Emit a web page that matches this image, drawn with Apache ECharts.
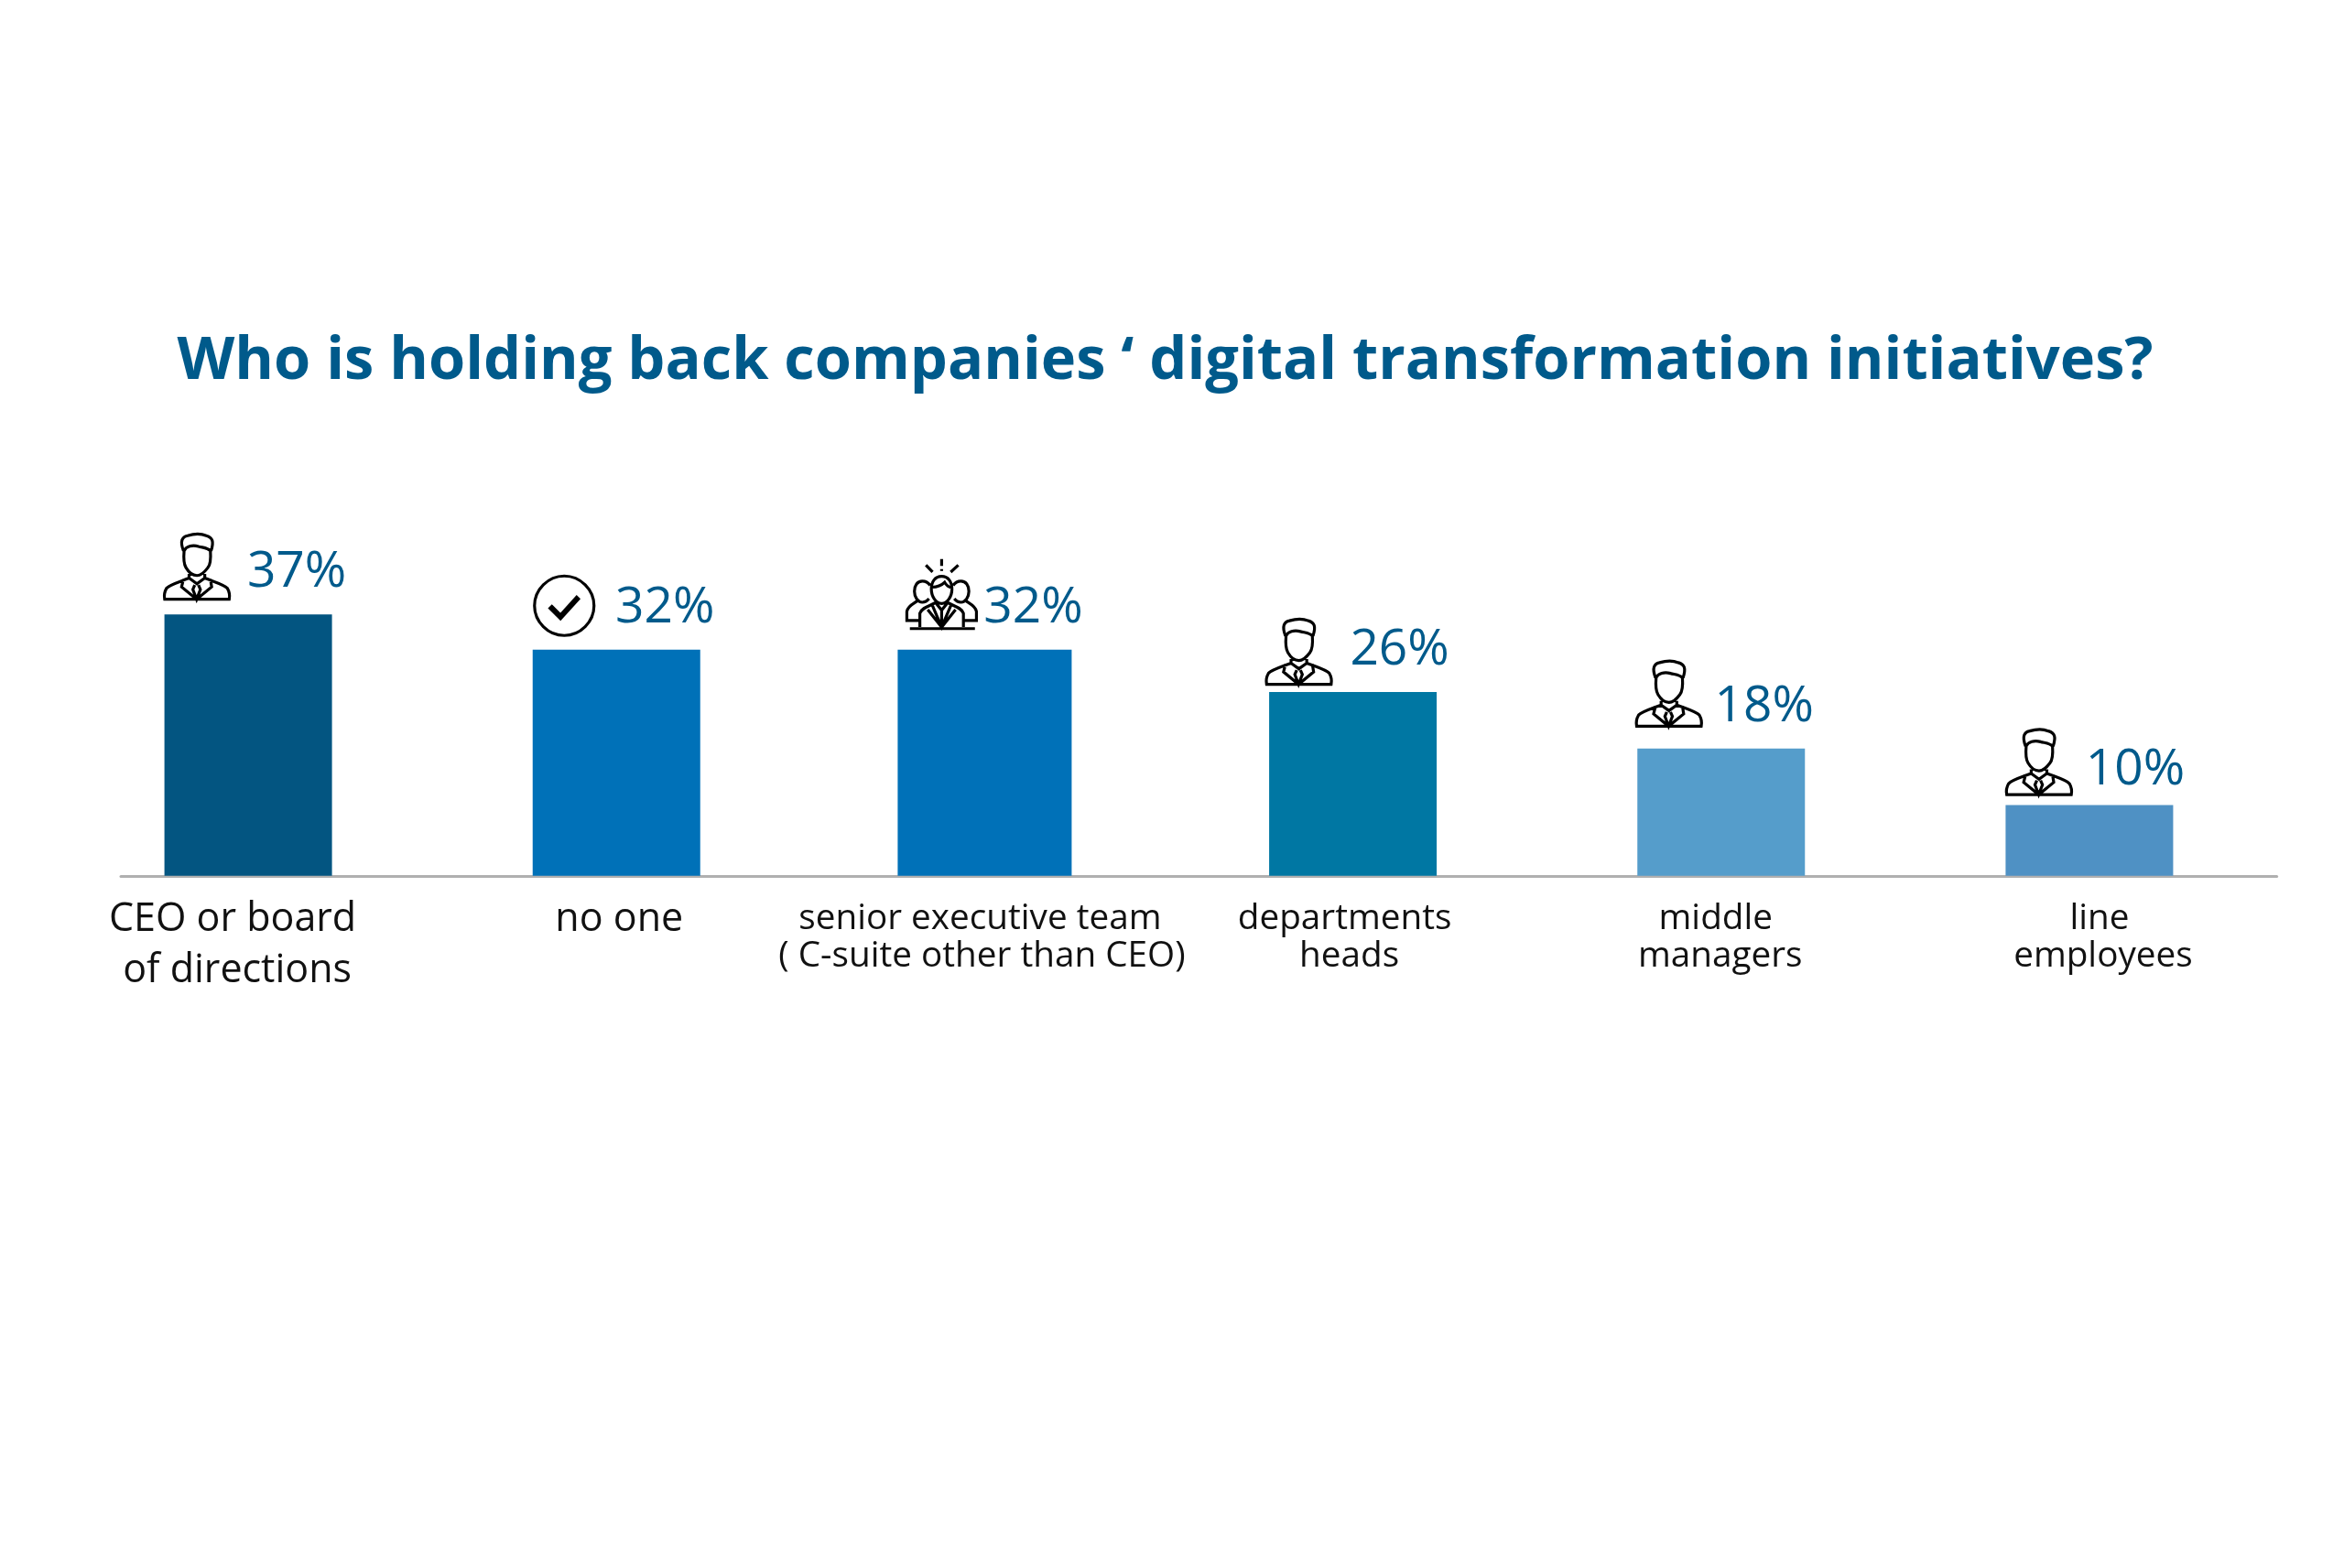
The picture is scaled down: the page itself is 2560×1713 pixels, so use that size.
<!DOCTYPE html>
<html>
<head>
<meta charset="utf-8">
<title>digital transformation</title>
<script src="https://cdn.jsdelivr.net/npm/echarts@6/dist/echarts.min.js"></script>
<style>
html,body{margin:0;padding:0;background:#fff;}
#main{width:2560px;height:1713px;}
</style>
</head>
<body>
<div id="main"></div>
<script>
var titleText = 'Who is holding back companies \u2018 digital transformation initiatives?';
var categories = ['CEO or board\nof directions','no one','senior executive team\n( C-suite other than CEO)','departments\nheads','middle\nmanagers','line\nemployees'];
var values = [37,32,32,26,18,10];

var barColors = ['#035581','#0071b8','#0071b8','#0077a3','#559dcb','#4f91c4'];

// icons drawn as outlines, coordinates are in their own little box
var personIcon = 'path://M92 92C80 60 88 48 105 44C125 38 150 38 165 44C185 50 190 62 180 92' +
  'M94 92C100 78 120 72 140 78C155 82 170 82 178 92C180 120 178 135 170 145C155 165 145 170 135 170C125 170 112 165 100 145C94 135 92 115 94 92Z' +
  'M110 165L110 178L135 196L160 178L160 165' +
  'M110 178C80 190 50 198 38 210C32 220 30 235 32 245L238 245C240 235 238 220 232 210C220 198 190 190 160 178' +
  'M92 182L86 206L134 245L182 206L178 182' +
  'M128 200L122 214L134 245L146 214L140 200';
var checkIcon = 'path://M50 2C76 2 98 24 98 50C98 76 76 98 50 98C24 98 2 76 2 50C2 24 24 2 50 2Z' +
  'M30 51L44 65L70 36L73 39L44 71L27 54Z';
var teamIcon = 'path://M130 25L130 48M130 58L130 64M78 45L100 68M185 45L160 68' +
  'M130 82C108 82 96 100 96 125C96 150 112 172 130 172C148 172 164 150 164 125C164 100 152 82 130 82Z' +
  'M98 118C115 118 130 112 140 102C146 112 155 118 164 120' +
  'M92 112C85 102 78 98 66 98C50 98 40 112 40 132C40 152 52 168 66 168C74 168 82 164 88 156' +
  'M168 112C175 102 182 98 194 98C210 98 220 112 220 132C220 152 208 168 194 168C186 168 178 164 172 156' +
  'M52 162C38 172 18 180 15 198L15 228L56 228M208 162C222 172 242 180 245 198L245 228L204 228' +
  'M112 168C90 180 64 186 58 204L58 250M148 168C170 180 196 186 202 204L202 250' +
  'M112 172L130 194L148 172M130 194L130 250M100 180L130 250L160 180M84 192L130 250L176 192' +
  'M25 255L240 255';

var iconList = [personIcon,checkIcon,teamIcon,personIcon,personIcon,personIcon];
var iconSizes = [71,65,76,71,71,71];
var iconOffsets = [[-56,-52],[-57,-48],[-47,-61],[-59,-44],[-57,-60],[-55,-47]];
var valueOffsets = [[53,0],[53,0],[53,0],[51,0],[47,0],[50,7]];
// per line of each label: sideways shift, font size, line height
var labelShifts = [[-17,-12],[3],[-5,-3],[-9,-4],[-6,-1],[11,15]];
var labelSizes = [43,43,38.7,38.7,38.7,38.7];
var labelHeights = [[56,56],[56],[54,28],[54,28],[54,28],[54,28]];
var wideBar = 2; // the third bar is a bit wider than the others

var myChart = echarts.init(document.getElementById('main'));

// one rich style per line, the labels do not sit exactly under their bars
var richStyles = {};
categories.forEach(function (c, i) {
  c.split('\n').forEach(function (t, j) {
    var s = labelShifts[i][j];
    richStyles['c' + i + '_' + j] = {
      fontFamily: 'Open Sans',
      fontSize: labelSizes[i],
      lineHeight: labelHeights[i][j],
      color: '#111',
      padding: s < 0 ? [0, -2 * s, 0, 0] : [0, 0, 0, 2 * s]
    };
  });
});

function barItem(v, i) {
  return {
    value: v,
    itemStyle: {color: barColors[i]},
    label: {offset: valueOffsets[i]}
  };
}

var barLabel = {
  show: true,
  position: 'top',
  distance: 18,
  formatter: '{c}%',
  fontFamily: 'Open Sans',
  fontSize: 55,
  color: '#005a8b'
};

var option = {
  backgroundColor: '#fff',
  animation: false,
  title: {
    text: titleText,
    left: 188.5,
    top: 358,
    textStyle: {fontFamily: 'Open Sans', fontWeight: 'bold', fontSize: 65, color: '#005a8b'}
  },
  grid: [
    {left: 70, right: 77, top: 184.8, height: 772},
    {left: 132, right: 73.4, top: 184.8, height: 772}
  ],
  xAxis: [
    {
      type: 'category',
      data: categories,
      axisLine: {show: false},
      axisTick: {show: false},
      axisLabel: {
        interval: 0,
        margin: 20,
        formatter: function (value, index) {
          return value.split('\n').map(function (t, j) {
            return '{c' + index + '_' + j + '|' + t + '}';
          }).join('\n');
        },
        rich: richStyles
      }
    },
    {
      // the baseline is longer than the band of the categories
      type: 'value',
      gridIndex: 1,
      axisLine: {show: true, onZero: false, lineStyle: {color: '#b0b0b0', width: 3}},
      axisTick: {show: false},
      axisLabel: {show: false},
      splitLine: {show: false}
    },
    {
      // same band as the first axis, only there so one bar can have its own width
      type: 'category',
      data: categories,
      show: false
    }
  ],
  yAxis: [
    {type: 'value', min: 0, max: 100, show: false},
    {type: 'value', gridIndex: 1, min: 0, max: 100, show: false}
  ],
  series: [
    {
      type: 'bar',
      barWidth: 183,
      data: values.map(function (v, i) {
        return i === wideBar ? null : barItem(v, i);
      }),
      label: barLabel
    },
    {
      type: 'bar',
      xAxisIndex: 2,
      barWidth: 190,
      data: values.map(function (v, i) {
        return i === wideBar ? barItem(v, i) : null;
      }),
      label: barLabel
    },
    {
      type: 'scatter',
      z: 5,
      silent: true,
      data: values.map(function (v, i) {
        return {
          value: v,
          symbol: iconList[i],
          symbolSize: iconSizes[i],
          symbolOffset: iconOffsets[i]
        };
      }),
      itemStyle: {color: 'rgba(255,255,255,0)', borderColor: '#000', borderWidth: 3.2, opacity: 1}
    }
  ]
};

myChart.setOption(option);
</script>
</body>
</html>
